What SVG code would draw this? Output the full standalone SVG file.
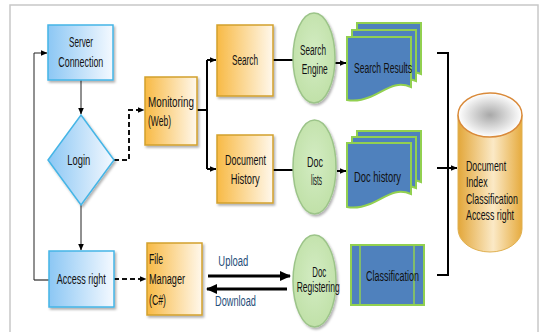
<svg xmlns="http://www.w3.org/2000/svg" width="540" height="332" viewBox="0 0 540 332">
<defs>
<style>
text{font-family:"Liberation Sans",Arial,sans-serif;font-size:14px;fill:#111}
.lbl{fill:#1f4e79}
.blue{fill:url(#gBlue);stroke:#45b5e6;stroke-width:1.5}
.orange{fill:url(#gOrange);stroke:#d2a12c;stroke-width:1.5}
.green{fill:url(#gGreen);stroke:#9cc489;stroke-width:1.5}
.doc{fill:#4f81bd;stroke:#92d050;stroke-width:2}
.thin{fill:none;stroke:#222;stroke-width:1}
.thick{fill:none;stroke:#000;stroke-width:2}
.dash{fill:none;stroke:#111;stroke-width:2;stroke-dasharray:5,3}
.io{fill:none;stroke:#000;stroke-width:3}
.sh{filter:url(#shadow)}
</style>
<linearGradient id="gBlue" x1="0" y1="0" x2="1" y2="0">
<stop offset="0" stop-color="#8cc7f4"/><stop offset="1" stop-color="#f4f9ff"/>
</linearGradient>
<linearGradient id="gOrange" x1="0" y1="0" x2="1" y2="0">
<stop offset="0" stop-color="#f8ba45"/><stop offset="1" stop-color="#fff8ec"/>
</linearGradient>
<radialGradient id="gGreen" cx="0.5" cy="0.45" r="0.6">
<stop offset="0" stop-color="#d3ecc3"/><stop offset="1" stop-color="#bfe0a6"/>
</radialGradient>
<linearGradient id="gCyl" x1="0" y1="0" x2="1" y2="0">
<stop offset="0" stop-color="#e3a73a"/><stop offset="0.55" stop-color="#fbe9c6"/><stop offset="1" stop-color="#e6ab3e"/>
</linearGradient>
<radialGradient id="gTop" cx="0.5" cy="0.5" r="0.5">
<stop offset="0" stop-color="#a8a8a8"/><stop offset="1" stop-color="#ffffff"/>
</radialGradient>
<filter id="shadow" x="-20%" y="-20%" width="150%" height="150%">
<feDropShadow dx="1.5" dy="2" stdDeviation="1" flood-color="#000" flood-opacity="0.3"/>
</filter>
<marker id="ah" markerUnits="userSpaceOnUse" markerWidth="7" markerHeight="7" refX="6.5" refY="3.5" orient="auto">
<path d="M0,0.5 L7,3.5 L0,6.5 z" fill="#000"/>
</marker>
<marker id="ahb" markerUnits="userSpaceOnUse" markerWidth="11" markerHeight="11" refX="10" refY="5.5" orient="auto">
<path d="M0,0.5 L11,5.5 L0,10.5 z" fill="#000"/>
</marker>
</defs>

<rect x="10" y="5" width="528" height="340" fill="#fff" stroke="#c8c8c8" stroke-width="1.5"/>

<g id="connectors">
<path class="thin" d="M81,80 V114" marker-end="url(#ah)"/>
<path class="thin" d="M81,205 V250" marker-end="url(#ah)"/>
<path d="M49,280 H34" fill="none" stroke="#7f7f7f" stroke-width="2"/>
<path class="thin" d="M34,280 V53 H47" marker-end="url(#ah)"/>
<path class="dash" d="M114,160 H129 V110 H144" marker-end="url(#ah)"/>
<path class="dash" d="M114,279 H146" marker-end="url(#ah)"/>
<path class="thick" d="M197,110 H207"/>
<path class="thick" d="M207,60 V169"/>
<path class="thick" d="M207,60 H216" marker-end="url(#ah)"/>
<path class="thick" d="M207,169 H216" marker-end="url(#ah)"/>
<path class="thick" d="M273,60 H294"/>
<path class="thick" d="M273,170 H293"/>
<path class="thick" d="M335,63 H346" marker-end="url(#ah)"/>
<path class="thick" d="M337,171 H346" marker-end="url(#ah)"/>
<path class="thick" d="M437,53 H448 V275 H437"/>
<path class="thick" d="M437,168 H457" marker-end="url(#ah)"/>
<path class="io" d="M208,276 H290" marker-end="url(#ahb)"/>
<path class="io" d="M287,289 H207" marker-end="url(#ahb)"/>
<text class="lbl" x="218.3" y="266" textLength="30" lengthAdjust="spacingAndGlyphs">Upload</text>
<text class="lbl" x="215" y="305.5" textLength="41" lengthAdjust="spacingAndGlyphs">Download</text>
</g>

<g id="server-connection">
<rect class="blue sh" x="48" y="25" width="65" height="55"/>
<text x="69" y="47" textLength="24" lengthAdjust="spacingAndGlyphs">Server</text>
<text x="58.3" y="67" textLength="45" lengthAdjust="spacingAndGlyphs">Connection</text>
</g>

<g id="login">
<polygon class="blue sh" points="81,115 114,160 81,205 48,160"/>
<text x="67.3" y="165" textLength="23" lengthAdjust="spacingAndGlyphs">Login</text>
</g>

<g id="access-right">
<rect class="blue sh" x="49" y="251" width="65" height="56"/>
<text x="56.7" y="284" textLength="49" lengthAdjust="spacingAndGlyphs">Access right</text>
</g>

<g id="monitoring">
<rect class="orange sh" x="145" y="77" width="52" height="68"/>
<text x="148" y="107" textLength="46" lengthAdjust="spacingAndGlyphs">Monitoring</text>
<text x="148" y="126" textLength="23" lengthAdjust="spacingAndGlyphs">(Web)</text>
</g>

<g id="search">
<rect class="orange sh" x="217" y="25" width="56" height="71"/>
<text x="232" y="65" textLength="26" lengthAdjust="spacingAndGlyphs">Search</text>
</g>

<g id="document-history">
<rect class="orange sh" x="217" y="135" width="56" height="68"/>
<text x="225" y="165" textLength="41" lengthAdjust="spacingAndGlyphs">Document</text>
<text x="230.7" y="184" textLength="29" lengthAdjust="spacingAndGlyphs">History</text>
</g>

<g id="file-manager">
<rect class="orange sh" x="147" y="243" width="55" height="72"/>
<text x="149" y="264" textLength="14" lengthAdjust="spacingAndGlyphs">File</text>
<text x="149" y="284" textLength="36" lengthAdjust="spacingAndGlyphs">Manager</text>
<text x="149" y="304.5" textLength="17" lengthAdjust="spacingAndGlyphs">(C#)</text>
</g>

<g id="search-engine">
<ellipse class="green sh" cx="314" cy="58" rx="21" ry="45"/>
<text x="300" y="55" textLength="26" lengthAdjust="spacingAndGlyphs">Search</text>
<text x="301.7" y="73.5" textLength="26" lengthAdjust="spacingAndGlyphs">Engine</text>
</g>

<g id="doc-lists">
<ellipse class="green sh" cx="314.5" cy="167" rx="21.5" ry="47"/>
<text x="307" y="167" textLength="16" lengthAdjust="spacingAndGlyphs">Doc</text>
<text x="311" y="185" textLength="11" lengthAdjust="spacingAndGlyphs">lists</text>
</g>

<g id="doc-registering">
<ellipse class="green sh" cx="314.5" cy="281" rx="21.5" ry="46"/>
<text x="312.3" y="277" textLength="14" lengthAdjust="spacingAndGlyphs">Doc</text>
<text x="296.7" y="292" textLength="43" lengthAdjust="spacingAndGlyphs">Registering</text>
</g>

<g id="search-results">
<path class="doc" d="M357,23 H421 V74 C405,67 395,77 380,83 C370,87 362,87 357,86 Z"/>
<path class="doc" d="M352,30 H416 V81 C400,74 390,84 375,90 C365,94 357,94 352,93 Z"/>
<path class="doc" d="M347,37 H411 V87 C395,80 385,91 370,97 C360,101 352,101 347,100 Z"/>
<text x="354" y="73" textLength="58" lengthAdjust="spacingAndGlyphs">Search Results</text>
</g>

<g id="doc-history">
<path class="doc" d="M357,131 H421 V182 C405,175 395,185 380,191 C370,195 362,195 357,194 Z"/>
<path class="doc" d="M352,137 H416 V188 C400,181 390,191 375,197 C365,201 357,201 352,200 Z"/>
<path class="doc" d="M347,143 H411 V194 C395,187 385,198 370,204 C360,208 352,208 347,207 Z"/>
<text x="354" y="181.5" textLength="47" lengthAdjust="spacingAndGlyphs">Doc history</text>
</g>

<g id="classification">
<rect class="doc" x="351" y="245" width="73" height="60"/>
<path d="M360,245 V305 M414,245 V305" stroke="#92d050" stroke-width="1.5"/>
<text x="366" y="281" textLength="53" lengthAdjust="spacingAndGlyphs">Classification</text>
</g>

<g id="database">
<path d="M458,115 V229 A32,23 0 0 0 522,229 V115 Z" fill="url(#gCyl)" stroke="#e0b050" stroke-width="1"/>
<ellipse cx="490" cy="115" rx="32" ry="22" fill="url(#gTop)" stroke="#d98a3a" stroke-width="1.5"/>
<g transform="translate(466 0) scale(0.63 1)">
<text x="0" y="171">Document</text>
<text x="0" y="187">Index</text>
<text x="0" y="204">Classification</text>
<text x="0" y="220.5">Access right</text>
</g>
</g>
</svg>
